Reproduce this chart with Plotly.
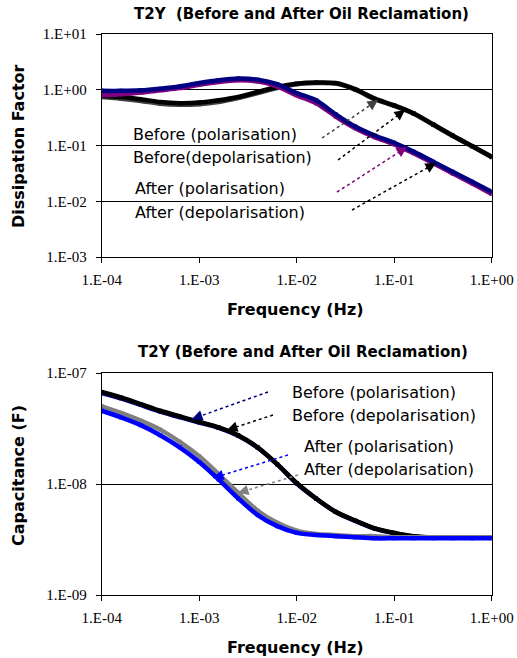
import plotly.graph_objects as go

W, H = 517, 658

# ---------------- data ----------------
freq = [1e-4, 1.58e-4, 2.51e-4, 3.98e-4, 6.31e-4, 1e-3, 1.58e-3, 2.51e-3, 3.98e-3, 6.31e-3,
        1e-2, 1.58e-2, 2.51e-2, 3.98e-2, 6.31e-2, 0.1, 0.158, 0.251, 0.398, 0.631, 1.0]

# Dissipation factor
df_before_pol = [0.741, 0.692, 0.631, 0.562, 0.537, 0.550, 0.603, 0.708, 0.871, 1.072, 1.259,
                 1.318, 1.288, 1.000, 0.676, 0.513, 0.372, 0.234, 0.148, 0.0955, 0.0617]
df_before_depol = [0.776, 0.741, 0.676, 0.603, 0.575, 0.589, 0.646, 0.741, 0.912, 1.122, 1.288,
                   1.349, 1.318, 1.023, 0.692, 0.525, 0.380, 0.240, 0.151, 0.0977, 0.0631]
df_after_pol = [0.794, 0.832, 0.891, 0.977, 1.072, 1.230, 1.380, 1.479, 1.413, 1.148, 0.794,
                0.575, 0.331, 0.204, 0.141, 0.105, 0.0724, 0.0479, 0.0316, 0.0209, 0.0135]
df_after_depol = [0.955, 0.955, 0.977, 1.047, 1.148, 1.318, 1.479, 1.585, 1.514, 1.259, 0.871,
                  0.646, 0.363, 0.219, 0.151, 0.112, 0.0776, 0.0513, 0.0339, 0.0224, 0.0148]

# Capacitance
c_before_pol = [6.6e-8, 5.9e-8, 5.15e-8, 4.5e-8, 4.0e-8, 3.58e-8, 3.2e-8, 2.72e-8, 2.12e-8, 1.5e-8,
                1.01e-8, 7.38e-9, 5.6e-9, 4.65e-9, 3.96e-9, 3.6e-9, 3.37e-9, 3.3e-9, 3.29e-9, 3.29e-9, 3.29e-9]
c_before_depol = [6.76e-8, 6.03e-8, 5.25e-8, 4.57e-8, 4.07e-8, 3.63e-8, 3.24e-8, 2.75e-8, 2.14e-8, 1.51e-8,
                  1.02e-8, 7.41e-9, 5.62e-9, 4.68e-9, 3.98e-9, 3.63e-9, 3.39e-9, 3.31e-9, 3.31e-9, 3.31e-9, 3.31e-9]
c_after_pol = [4.57e-8, 3.98e-8, 3.39e-8, 2.75e-8, 2.14e-8, 1.58e-8, 1.10e-8, 7.41e-9, 5.25e-9, 4.17e-9,
               3.63e-9, 3.47e-9, 3.39e-9, 3.31e-9, 3.24e-9, 3.24e-9, 3.24e-9, 3.24e-9, 3.24e-9, 3.24e-9, 3.24e-9]
c_after_depol = [5.01e-8, 4.37e-8, 3.72e-8, 3.09e-8, 2.40e-8, 1.78e-8, 1.23e-8, 8.32e-9, 5.75e-9, 4.47e-9,
                 3.80e-9, 3.55e-9, 3.47e-9, 3.39e-9, 3.39e-9, 3.31e-9, 3.31e-9, 3.31e-9, 3.31e-9, 3.31e-9, 3.31e-9]

x_tickvals = [1e-4, 1e-3, 1e-2, 1e-1, 1]
x_ticktext = ["1.E-04", "1.E-03", "1.E-02", "1.E-01", "1.E+00"]
y1_tickvals = [1e-3, 1e-2, 1e-1, 1, 10]
y1_ticktext = ["1.E-03", "1.E-02", "1.E-01", "1.E+00", "1.E+01"]
y2_tickvals = [1e-9, 1e-8, 1e-7]
y2_ticktext = ["1.E-09", "1.E-08", "1.E-07"]

title_text = "T2Y\u00a0\u00a0(Before and After Oil Reclamation)"
title_text2 = "T2Y (Before and After Oil Reclamation)"
xlab = "Frequency (Hz)"
ylab1 = "Dissipation Factor"
ylab2 = "Capacitance (F)"

# ---------------- figure ----------------
def px(x, y):
    return x / W, 1 - y / H

X0, X1 = 101.7, 491.7
T_TOP, T_BOT = 34, 257
B_TOP, B_BOT = 373, 595

fig = go.Figure()

def add_series(x, y, color, xa, ya, width=4.5):
    fig.add_trace(go.Scatter(x=x, y=y, mode="lines+markers", xaxis=xa, yaxis=ya,
                             line=dict(color=color, width=width, shape="spline", smoothing=0.8),
                             marker=dict(color=color, size=4, symbol="square"),
                             showlegend=False, hoverinfo="skip"))

add_series(freq, df_before_pol, "#404040", "x", "y")
add_series(freq, df_before_depol, "#000000", "x", "y")
add_series(freq, df_after_pol, "#800080", "x", "y")
add_series(freq, df_after_depol, "#000080", "x", "y")

add_series(freq, c_before_pol, "#000080", "x2", "y2")
add_series(freq, c_before_depol, "#000000", "x2", "y2")
add_series(freq, c_after_depol, "#808080", "x2", "y2")
add_series(freq, c_after_pol, "#0000FF", "x2", "y2")

serif = dict(family="Liberation Serif", size=15, color="black")
axis_common = dict(type="log", showline=True, linecolor="black", linewidth=1, mirror=True,
                   ticks="outside", ticklen=5, tickcolor="black", tickfont=serif,
                   zeroline=False, automargin=False)

fig.update_layout(
    width=W, height=H, margin=dict(l=0, r=0, t=0, b=0),
    paper_bgcolor="white", plot_bgcolor="white", showlegend=False,
    xaxis=dict(axis_common, domain=[X0 / W, X1 / W], range=[-4, 0], anchor="y",
               tickvals=x_tickvals, ticktext=x_ticktext, showgrid=False, ticklabelstandoff=4),
    yaxis=dict(axis_common, domain=[1 - T_BOT / H, 1 - T_TOP / H], range=[-3, 1], anchor="x",
               tickvals=y1_tickvals, ticktext=y1_ticktext, showgrid=True, gridcolor="black",
               gridwidth=1, ticklabelstandoff=6),
    xaxis2=dict(axis_common, domain=[X0 / W, X1 / W], range=[-4, 0], anchor="y2",
                tickvals=x_tickvals, ticktext=x_ticktext, showgrid=False, ticklabelstandoff=4),
    yaxis2=dict(axis_common, domain=[1 - B_BOT / H, 1 - B_TOP / H], range=[-9, -7], anchor="x2",
                tickvals=y2_tickvals, ticktext=y2_ticktext, showgrid=True, gridcolor="black",
                gridwidth=1, ticklabelstandoff=6),
)

bold = dict(family="DejaVu Sans", size=13, color="black")
lab = dict(family="DejaVu Sans", size=16, color="black")

def text(s, x, y, font, xanchor="center", angle=0):
    xp, yp = px(x, y)
    fig.add_annotation(text=s, x=xp, y=yp, xref="paper", yref="paper", showarrow=False,
                       xanchor=xanchor, yanchor="middle", font=font, textangle=angle)

# titles
text("<b>" + title_text + "</b>", 301, 14, dict(bold, size=15))
text("<b>" + title_text2 + "</b>", 303, 352, dict(bold, size=15))
text("<b>" + xlab + "</b>", 295, 309, dict(bold, size=16))
text("<b>" + xlab + "</b>", 295, 647, dict(bold, size=16))
text("<b>" + ylab1 + "</b>", 18, 146, dict(bold, size=16), angle=-90)
text("<b>" + ylab2 + "</b>", 18, 476, dict(bold, size=16), angle=-90)

# curve labels
text("Before (polarisation)", 131, 134, lab, "left")
text("Before(depolarisation)", 131, 157, lab, "left")
text("After (polarisation)", 133, 188, lab, "left")
text("After (depolarisation)", 133, 212, lab, "left")

text("Before (polarisation)", 290, 392, lab, "left")
text("Before (depolarisation)", 290, 415, lab, "left")
text("After (polarisation)", 302, 446, lab, "left")
text("After (depolarisation)", 302, 469, lab, "left")

def arrow(tx, ty, hx, hy, color):
    x0, y0 = px(tx, ty)
    x1, y1 = px(hx, hy)
    fig.add_shape(type="line", xref="paper", yref="paper", x0=x0, y0=y0, x1=x1, y1=y1,
                  line=dict(color=color, width=1.5, dash="dot"))
    dx, dy = tx - hx, ty - hy
    L = (dx * dx + dy * dy) ** 0.5
    fig.add_annotation(x=x1, y=y1, xref="paper", yref="paper", text="", showarrow=True,
                       ax=dx / L * 9, ay=dy / L * 9, arrowhead=2, arrowsize=1.4,
                       arrowwidth=1.5, arrowcolor=color, standoff=0)

arrow(322, 138, 378, 100, "#404040")
arrow(338, 160, 405, 110, "#000000")
arrow(337, 192, 407, 147, "#800080")
arrow(352, 210, 436, 163, "#000000")

arrow(268, 392, 192, 419, "#000080")
arrow(273, 415, 227, 430, "#000000")
arrow(288, 455, 213, 478, "#0000FF")
arrow(298, 475, 238, 493, "#808080")

fig.write_html("out.html")
